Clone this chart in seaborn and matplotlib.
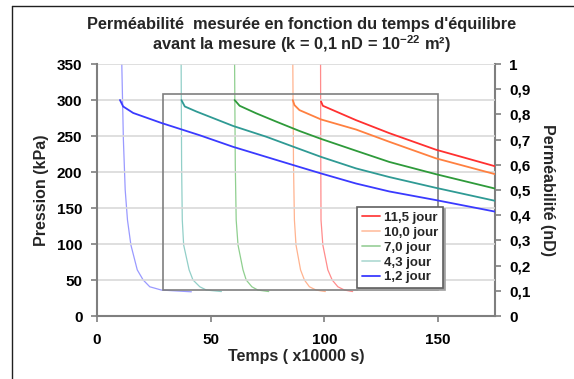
import matplotlib
matplotlib.use("Agg")
import matplotlib.pyplot as plt
import seaborn as sns
import pandas as pd
from matplotlib.lines import Line2D
from matplotlib.patches import Rectangle

# ---------------- data ----------------
labels = ["11,5 jour", "10,0 jour", "7,0 jour", "4,3 jour", "1,2 jour"]

# pressure (kPa, left axis)
p_x_115 = [98.5, 99.3, 102.2, 113.9, 128.5, 149.0, 175.0]
p_y_115 = [298, 292, 288, 272, 254, 231, 208]
p_x_100 = [86.1, 86.8, 89.0, 98.5, 113.9, 128.5, 149.0, 175.0]
p_y_100 = [300, 293, 286, 273, 259, 242, 219, 197]
p_x_70 = [60.5, 62.7, 70.0, 78.8, 89.0, 98.5, 113.9, 128.5, 149.0, 175.0]
p_y_70 = [300, 292, 281.5, 270, 257, 246, 229.5, 214, 197, 177]
p_x_43 = [37.1, 38.6, 43.7, 59.8, 74.4, 89.0, 98.5, 113.9, 128.5, 149.0, 175.0]
p_y_43 = [300, 291, 284, 264, 249, 232, 221, 205, 193, 178, 160]
p_x_12 = [10.1, 11.5, 15.9, 28.4, 45.2, 59.8, 74.4, 89.0, 98.5, 113.9, 128.5, 149.0, 175.0]
p_y_12 = [300, 291, 282, 268, 251, 235, 221, 207, 198, 184, 173, 161, 145]

# permeability (nD, right axis)
k_x_115 = [98.3, 98.4, 98.5, 99.3, 101.5, 103.4, 105.9, 108.8, 112.4]
k_y_115 = [1.0, 0.6, 0.381, 0.282, 0.183, 0.143, 0.116, 0.103, 0.097]
k_x_100 = [86.1, 86.4, 86.8, 87.5, 89.5, 91.2, 93.4, 96.3, 100.4]
k_y_100 = [1.0, 0.6, 0.381, 0.282, 0.183, 0.143, 0.116, 0.103, 0.097]
k_x_70 = [60.5, 60.8, 61.2, 62.0, 64.2, 65.6, 68.1, 70.7, 75.5]
k_y_70 = [1.0, 0.6, 0.381, 0.282, 0.183, 0.143, 0.116, 0.103, 0.097]
k_x_43 = [37.0, 37.2, 37.5, 38.1, 40.5, 42.2, 45.2, 48.1, 54.7]
k_y_43 = [1.0, 0.6, 0.381, 0.282, 0.183, 0.143, 0.116, 0.103, 0.097]
k_x_12 = [10.9, 11.6, 12.4, 13.4, 14.9, 17.7, 20.3, 23.2, 28.3, 41.5]
k_y_12 = [1.0, 0.7, 0.5, 0.381, 0.282, 0.183, 0.143, 0.116, 0.103, 0.096]

x_ticks = [0, 50, 100, 150]
y_left_ticks = [0, 50, 100, 150, 200, 250, 300, 350]
y_right_ticks = [0, 0.1, 0.2, 0.3, 0.4, 0.5, 0.6, 0.7, 0.8, 0.9, 1.0]
y_right_labels = ["0", "0,1", "0,2", "0,3", "0,4", "0,5", "0,6", "0,7", "0,8", "0,9", "1"]

# zoom box (data units)
box_x = [29, 150]
box_y = [36, 309]

# ---------------- style ----------------
sns.set_theme(style="white")
plt.rcParams["font.family"] = ["Liberation Sans", "DejaVu Sans"]
plt.rcParams["font.weight"] = "bold"
plt.rcParams["mathtext.fontset"] = "custom"
plt.rcParams["mathtext.rm"] = "Liberation Sans:bold"
plt.rcParams["mathtext.bf"] = "Liberation Sans:bold"
plt.rcParams["mathtext.default"] = "rm"

p_colors = ["#ff3030", "#ff8040", "#2e9a3a", "#2f9a94", "#3a3aff"]
k_colors = ["#ff8c8c", "#ffb38f", "#8fcf8f", "#92cfc8", "#9a9aff"]
leg_colors = ["#ff4040", "#ffc4a8", "#9fd29f", "#b4dcd6", "#3a3aff"]

fig = plt.figure(figsize=(5.74, 3.79), dpi=100)
ax = fig.add_axes([97 / 574, 1 - 316 / 379, (495 - 97) / 574, (316 - 64) / 379])
ax2 = ax.twinx()

p_sets = [(p_x_115, p_y_115), (p_x_100, p_y_100), (p_x_70, p_y_70), (p_x_43, p_y_43), (p_x_12, p_y_12)]
k_sets = [(k_x_115, k_y_115), (k_x_100, k_y_100), (k_x_70, k_y_70), (k_x_43, k_y_43), (k_x_12, k_y_12)]

for (xs, ys), c in zip(p_sets, p_colors):
    df = pd.DataFrame({"x": xs, "y": ys})
    sns.lineplot(data=df, x="x", y="y", ax=ax, color=c, lw=1.3, sort=False, estimator=None, legend=False)

for (xs, ys), c in zip(k_sets, k_colors):
    df = pd.DataFrame({"x": xs, "y": ys})
    sns.lineplot(data=df, x="x", y="y", ax=ax2, color=c, lw=0.9, sort=False, estimator=None, legend=False)

ax.add_patch(Rectangle((box_x[0], box_y[0]), box_x[1] - box_x[0], box_y[1] - box_y[0],
                       fill=False, edgecolor="#7f7f7f", lw=1.2, zorder=1))

ax.set_xlim(0, 175)
ax.set_ylim(0, 350)
ax2.set_ylim(0, 1)
ax.set_xticks(x_ticks)
ax.set_yticks(y_left_ticks)
ax2.set_yticks(y_right_ticks)
ax2.set_yticklabels(y_right_labels)
ax.yaxis.grid(True, color="#d9d9d9", lw=1.2)
ax.set_axisbelow(True)

for a in (ax, ax2):
    for s in a.spines.values():
        s.set_visible(False)
    a.tick_params(labelsize=11, colors="#7f7f7f", labelcolor="black", width=1.2, length=4, direction="out")
ax.spines["left"].set_visible(True)
ax.spines["bottom"].set_visible(True)
ax2.spines["right"].set_visible(True)
for s in (ax.spines["left"], ax.spines["bottom"], ax2.spines["right"]):
    s.set_color("#7f7f7f")
    s.set_linewidth(1.5)
ax.tick_params(axis="x", bottom=True, pad=8)
ax.tick_params(axis="y", left=True, pad=6.5)
ax2.tick_params(axis="y", right=True, pad=6)
for lab in ax.get_xticklabels() + ax.get_yticklabels() + ax2.get_yticklabels():
    lab.set_fontweight("bold")

ax.set_xlabel("Temps ( x10000 s)", fontsize=11.5, fontweight="bold", labelpad=2)
ax.set_ylabel("Pression (kPa)", fontsize=11.5, fontweight="bold", labelpad=6)
ax2.set_ylabel("Perméabilité (nD)", fontsize=11.5, fontweight="bold", rotation=270, labelpad=18)

fig.text(0.525, 1 - 24 / 379, "Perméabilité  mesurée en fonction du temps d'équilibre",
         ha="center", va="center", fontsize=11.8, fontweight="bold")
fig.text(0.525, 1 - 44 / 379, "avant la mesure (k = 0,1 nD = 10$^{-22}$ m²)",
         ha="center", va="center", fontsize=11.8, fontweight="bold")

handles = [Line2D([0], [0], color=c, lw=1.3) for c in leg_colors]
leg = ax.legend(handles, labels, loc="lower right", bbox_to_anchor=(0.869, 0.111),
                prop={"size": 9.5, "weight": "bold"}, frameon=True, fancybox=False,
                handlelength=1.4, handletextpad=0.3, labelspacing=0.2, borderpad=0.35,
                borderaxespad=0, shadow={"ox": 1.5, "oy": -1.5, "color": "#a0a0a0", "alpha": 1})
leg.get_frame().set_edgecolor("#606060")
leg.get_frame().set_linewidth(1.2)
leg.set_zorder(5)
ax.set_zorder(ax2.get_zorder() + 1)
ax.patch.set_visible(False)

# outer frame (left and top edges visible in reference)
fig.add_artist(Line2D([12 / 574, 12 / 574], [0, 1 - 6 / 379], transform=fig.transFigure, color="#202020", lw=1))
fig.add_artist(Line2D([12 / 574, 1], [1 - 6 / 379, 1 - 6 / 379], transform=fig.transFigure, color="#202020", lw=1))

fig.savefig("out.png", dpi=100)
